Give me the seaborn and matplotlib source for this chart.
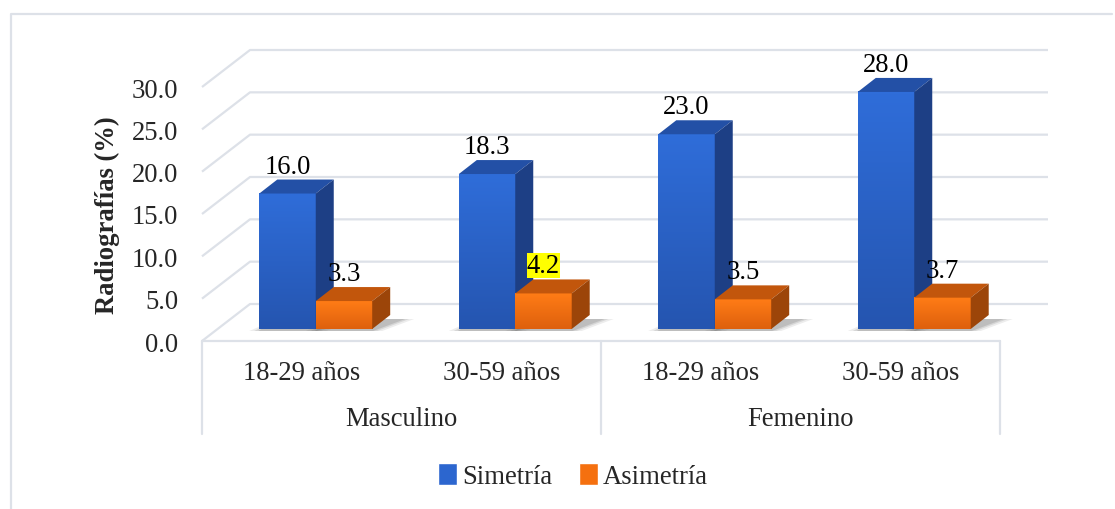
import matplotlib
matplotlib.use("Agg")
import matplotlib.pyplot as plt
import seaborn as sns
import pandas as pd
import numpy as np
from matplotlib.patches import Polygon, Patch
from matplotlib.lines import Line2D
from matplotlib.colors import LinearSegmentedColormap

# data
sexo = ["Masculino", "Masculino", "Femenino", "Femenino"]
edad = ["18-29 años", "30-59 años", "18-29 años", "30-59 años"]
simetria = [16.0, 18.3, 23.0, 28.0]
asimetria = [3.3, 4.2, 3.5, 3.7]
series = ["Simetría", "Asimetría"]
yticks = [0, 5, 10, 15, 20, 25, 30]

grupos = [s + " " + e for s, e in zip(sexo, edad)]
df = pd.DataFrame({
    "grupo": grupos * 2,
    "serie": [series[0]] * 4 + [series[1]] * 4,
    "valor": simetria + asimetria,
})

BLUE = "#2c66cf"
ORANGE = "#f5700f"
face_grad = {0: ("#2f6dd9", "#2555b0"), 1: ("#ff7c16", "#de600d")}
side_col = {0: "#1d3f85", 1: "#9c4509"}
top_col = {0: "#2350a6", 1: "#c2560c"}
GRID = "#dde1e8"

sns.set_style("white")
plt.rcParams["font.family"] = ["Liberation Serif", "DejaVu Serif"]
FS = 19.2

W, H = 1115, 510
fig = plt.figure(figsize=(W / 100, H / 100), dpi=100)
ax = fig.add_axes([202 / W, (H - 342) / H, 798 / W, 254 / H])

px_x = 798 / 4.0      # pixels per category unit
px_y = 254 / 30.0     # pixels per value unit
dx = lambda p: p / px_x
dy = lambda p: p / px_y

sns.barplot(data=df, x="grupo", y="valor", hue="serie", palette=[BLUE, ORANGE],
            width=0.566, saturation=1, legend=False, ax=ax, linewidth=0)

ax.set_xlim(-0.5, 3.5)
ax.set_ylim(0, 30)
sns.despine(ax=ax, left=True, bottom=True)

# back wall grid with left-wall diagonals
wx, wy = dx(48), dy(37)
for v in yticks:
    ax.plot([-0.5, -0.5 + wx, 3.5 + wx], [v, v + wy, v + wy], color=GRID, lw=1.6,
            clip_on=False, zorder=0.5, solid_capstyle="butt")

# category box
ax.plot([-0.5, 3.5], [0, 0], color=GRID, lw=1.6, clip_on=False, zorder=0.5)
for xv in [-0.5, 1.5, 3.5]:
    ax.plot([xv, xv], [0, dy(-93)], color=GRID, lw=1.6, clip_on=False, zorder=0.5)

# pseudo 3D bars
sx, sy = dx(14), dy(12)
bx, by = dx(18), dy(14)
n = len(grupos)
for i, p in enumerate(ax.patches):
    k = i // n
    x0 = p.get_x() + sx
    w = p.get_width()
    h = p.get_height()
    p.set_x(x0)
    p.set_y(sy)
    z = 3 + k
    p.set_zorder(z)
    p.set_clip_on(False)
    cmap = LinearSegmentedColormap.from_list("g", [face_grad[k][1], face_grad[k][0]])
    grad = np.linspace(0, 1, 64).reshape(-1, 1)
    im = ax.imshow(grad, extent=(x0, x0 + w, sy, sy + h), origin="lower", aspect="auto",
                   cmap=cmap, zorder=z + 0.1, interpolation="bilinear")
    im.set_clip_on(False)
    top = Polygon([(x0, sy + h), (x0 + w, sy + h), (x0 + w + bx, sy + h + by), (x0 + bx, sy + h + by)],
                  closed=True, facecolor=top_col[k], edgecolor="none", zorder=z + 0.1, clip_on=False)
    side = Polygon([(x0 + w, sy), (x0 + w + bx, sy + by), (x0 + w + bx, sy + h + by), (x0 + w, sy + h)],
                   closed=True, facecolor=side_col[k], edgecolor="none", zorder=z + 0.1, clip_on=False)
    ax.add_patch(top)
    ax.add_patch(side)
    # soft floor shadow
    for a, grow in [(0.10, 10), (0.14, 5), (0.18, 1)]:
        sh = Polygon([(x0 - dx(grow), sy - dy(2)), (x0 + w + dx(grow), sy - dy(2)),
                      (x0 + w + bx + dx(14 + grow), sy + by - dy(4)), (x0 + bx, sy + by - dy(4))],
                     closed=True, facecolor="#505050", alpha=a, edgecolor="none", zorder=2, clip_on=False)
        ax.add_patch(sh)
    # value label
    kw = {}
    if k == 1 and i % n == 1:
        kw["bbox"] = dict(facecolor="#ffff00", edgecolor="none", pad=0)
    ax.text(x0 + w / 2, sy + h + by + dy(1), f"{h:.1f}", ha="center", va="bottom",
            fontsize=FS, color="black", zorder=10, **kw)

ax.set_xlim(-0.5, 3.5)
ax.set_ylim(0, 30)

# axis labels
ax.set_yticks(yticks)
ax.set_yticklabels([f"{v:.1f}" for v in yticks], fontsize=FS)
ax.set_xticks(range(n))
ax.set_xticklabels([""] * n)
ax.tick_params(axis="both", length=0)
ax.tick_params(axis="y", pad=17)
ax.set_xlabel("")
ax.set_ylabel("Radiografías (%)", fontsize=FS, fontweight="bold")
ax.yaxis.set_label_coords(-0.103, 0.5)

for i, e in enumerate(edad):
    ax.text(i, dy(-31), e, ha="center", va="center", fontsize=FS, clip_on=False)
for c, s in [(0.5, sexo[0]), (2.5, sexo[2])]:
    ax.text(c, dy(-78), s, ha="center", va="center", fontsize=FS, clip_on=False)

# legend
handles = [Patch(facecolor=BLUE), Patch(facecolor=ORANGE)]
fig.legend(handles, series, loc="center", bbox_to_anchor=(573 / W, 1 - 477 / H), ncol=2,
           frameon=False, fontsize=FS, handlelength=0.7, handleheight=0.9,
           handletextpad=0.2, columnspacing=1.0)

# chart area border (left and top visible)
fig.add_artist(Line2D([11 / W, 11 / W, 1112 / W], [0, 1 - 15 / H, 1 - 15 / H],
                      color=GRID, lw=1.6))

fig.savefig("out.png", dpi=100)
